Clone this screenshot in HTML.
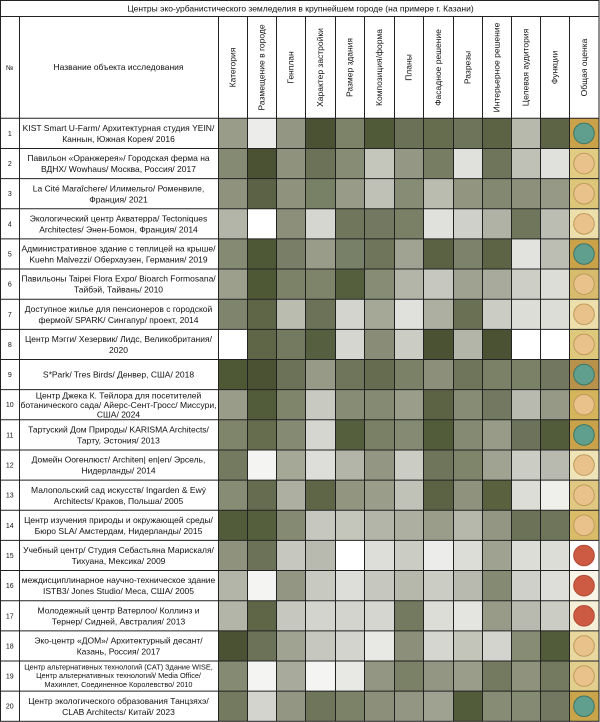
<!DOCTYPE html>
<html><head><meta charset="utf-8"><style>
html,body{margin:0;padding:0;background:#fff;}
svg{display:block;}
text{font-family:"Liberation Sans",Arial,"Noto Sans CJK SC",sans-serif;fill:#111;}
.n{font-size:8.5px;text-anchor:middle;}
.s{font-size:7.3px;text-anchor:middle;}
.num{font-size:7px;text-anchor:middle;}
.h{font-size:8.5px;text-anchor:middle;}
</style></head><body>
<svg width="600" height="722" viewBox="0 0 600 722" xmlns="http://www.w3.org/2000/svg">
<rect x="0" y="0" width="600" height="722" fill="#fff"/>

<g transform="translate(0,118.3)">
<rect x="218" width="29" height="30.15" fill="#9a9c8a"/><rect x="247" width="29" height="30.15" fill="#ececea"/><rect x="276" width="29" height="30.15" fill="#939682"/><rect x="305" width="30" height="30.15" fill="#4b5233"/><rect x="335" width="29" height="30.15" fill="#7c8369"/><rect x="364" width="30" height="30.15" fill="#505a38"/><rect x="394" width="29" height="30.15" fill="#6b7156"/><rect x="423" width="30" height="30.15" fill="#666d4f"/><rect x="453" width="29" height="30.15" fill="#6e745a"/><rect x="482" width="29" height="30.15" fill="#5b6344"/><rect x="511" width="29" height="30.15" fill="#b8b9ad"/><rect x="540" width="29" height="30.15" fill="#5d6446"/><rect x="569" width="30" height="30.15" fill="#c9a24a"/>
<circle cx="584" cy="15.1" r="10.3" fill="#609f8d" stroke="#3d7565"/>
</g>
<g transform="translate(0,148.45)">
<rect x="218" width="29" height="30.15" fill="#858a73"/><rect x="247" width="29" height="30.15" fill="#4b5233"/><rect x="276" width="29" height="30.15" fill="#8f937e"/><rect x="305" width="30" height="30.15" fill="#6b7257"/><rect x="335" width="29" height="30.15" fill="#878c75"/><rect x="364" width="30" height="30.15" fill="#c4c6bc"/><rect x="394" width="29" height="30.15" fill="#949783"/><rect x="423" width="30" height="30.15" fill="#777d62"/><rect x="453" width="29" height="30.15" fill="#e0e0dc"/><rect x="482" width="29" height="30.15" fill="#6f755b"/><rect x="511" width="29" height="30.15" fill="#bfc1b7"/><rect x="540" width="29" height="30.15" fill="#e0e0dc"/><rect x="569" width="30" height="30.15" fill="#e2cc84"/>
<circle cx="584" cy="15.1" r="10.3" fill="#e8c28a" stroke="#bf9a5c"/>
</g>
<g transform="translate(0,178.6)">
<rect x="218" width="29" height="30.15" fill="#8f937e"/><rect x="247" width="29" height="30.15" fill="#5b6245"/><rect x="276" width="29" height="30.15" fill="#8f937e"/><rect x="305" width="30" height="30.15" fill="#788066"/><rect x="335" width="29" height="30.15" fill="#989b87"/><rect x="364" width="30" height="30.15" fill="#bfc1b6"/><rect x="394" width="29" height="30.15" fill="#878c75"/><rect x="423" width="30" height="30.15" fill="#bbbcb0"/><rect x="453" width="29" height="30.15" fill="#929580"/><rect x="482" width="29" height="30.15" fill="#838870"/><rect x="511" width="29" height="30.15" fill="#8d917b"/><rect x="540" width="29" height="30.15" fill="#969985"/><rect x="569" width="30" height="30.15" fill="#ddc57a"/>
<circle cx="584" cy="15.1" r="10.3" fill="#e8c28a" stroke="#bf9a5c"/>
</g>
<g transform="translate(0,208.75)">
<rect x="218" width="29" height="30.15" fill="#b3b5a8"/><rect x="247" width="29" height="30.15" fill="#ffffff"/><rect x="276" width="29" height="30.15" fill="#8c907a"/><rect x="305" width="30" height="30.15" fill="#d5d6d0"/><rect x="335" width="29" height="30.15" fill="#6f765b"/><rect x="364" width="30" height="30.15" fill="#727960"/><rect x="394" width="29" height="30.15" fill="#7a8066"/><rect x="423" width="30" height="30.15" fill="#e0e0dc"/><rect x="453" width="29" height="30.15" fill="#cfd0c9"/><rect x="482" width="29" height="30.15" fill="#b0b2a5"/><rect x="511" width="29" height="30.15" fill="#6f765b"/><rect x="540" width="29" height="30.15" fill="#bcbdb2"/><rect x="569" width="30" height="30.15" fill="#ecdfab"/>
<circle cx="584" cy="15.1" r="10.3" fill="#e8c28a" stroke="#bf9a5c"/>
</g>
<g transform="translate(0,238.9)">
<rect x="218" width="29" height="30.15" fill="#858a73"/><rect x="247" width="29" height="30.15" fill="#4f5836"/><rect x="276" width="29" height="30.15" fill="#797f66"/><rect x="305" width="30" height="30.15" fill="#999c89"/><rect x="335" width="29" height="30.15" fill="#798068"/><rect x="364" width="30" height="30.15" fill="#6f755b"/><rect x="394" width="29" height="30.15" fill="#a0a391"/><rect x="423" width="30" height="30.15" fill="#5a6243"/><rect x="453" width="29" height="30.15" fill="#7d836a"/><rect x="482" width="29" height="30.15" fill="#5c6445"/><rect x="511" width="29" height="30.15" fill="#e2e2de"/><rect x="540" width="29" height="30.15" fill="#bdbeb3"/><rect x="569" width="30" height="30.15" fill="#c9a24a"/>
<circle cx="584" cy="15.1" r="10.3" fill="#609f8d" stroke="#3d7565"/>
</g>
<g transform="translate(0,269.05)">
<rect x="218" width="29" height="30.15" fill="#9c9f8c"/><rect x="247" width="29" height="30.15" fill="#4f5835"/><rect x="276" width="29" height="30.15" fill="#7c8268"/><rect x="305" width="30" height="30.15" fill="#7d846a"/><rect x="335" width="29" height="30.15" fill="#555f3d"/><rect x="364" width="30" height="30.15" fill="#878c75"/><rect x="394" width="29" height="30.15" fill="#b3b5a8"/><rect x="423" width="30" height="30.15" fill="#c6c8bf"/><rect x="453" width="29" height="30.15" fill="#9fa290"/><rect x="482" width="29" height="30.15" fill="#a8aa9b"/><rect x="511" width="29" height="30.15" fill="#cdcec6"/><rect x="540" width="29" height="30.15" fill="#dcddd7"/><rect x="569" width="30" height="30.15" fill="#d8bc6e"/>
<circle cx="584" cy="15.1" r="10.3" fill="#e8c28a" stroke="#bf9a5c"/>
</g>
<g transform="translate(0,299.2)">
<rect x="218" width="29" height="30.15" fill="#7f846c"/><rect x="247" width="29" height="30.15" fill="#5f6648"/><rect x="276" width="29" height="30.15" fill="#bbbcb0"/><rect x="305" width="30" height="30.15" fill="#6c7257"/><rect x="335" width="29" height="30.15" fill="#d3d4ce"/><rect x="364" width="30" height="30.15" fill="#a5a897"/><rect x="394" width="29" height="30.15" fill="#e0e0dc"/><rect x="423" width="30" height="30.15" fill="#adafa1"/><rect x="453" width="29" height="30.15" fill="#6a7054"/><rect x="482" width="29" height="30.15" fill="#cbccc4"/><rect x="511" width="29" height="30.15" fill="#dcddd7"/><rect x="540" width="29" height="30.15" fill="#dcddd7"/><rect x="569" width="30" height="30.15" fill="#ecdfab"/>
<circle cx="584" cy="15.1" r="10.3" fill="#e8c28a" stroke="#bf9a5c"/>
</g>
<g transform="translate(0,329.35)">
<rect x="218" width="29" height="30.15" fill="#ffffff"/><rect x="247" width="29" height="30.15" fill="#5f6648"/><rect x="276" width="29" height="30.15" fill="#737a5f"/><rect x="305" width="30" height="30.15" fill="#566040"/><rect x="335" width="29" height="30.15" fill="#d5d6d0"/><rect x="364" width="30" height="30.15" fill="#898d77"/><rect x="394" width="29" height="30.15" fill="#cbccc4"/><rect x="423" width="30" height="30.15" fill="#4b5233"/><rect x="453" width="29" height="30.15" fill="#b3b5a8"/><rect x="482" width="29" height="30.15" fill="#4b5233"/><rect x="511" width="29" height="30.15" fill="#ffffff"/><rect x="540" width="29" height="30.15" fill="#ffffff"/><rect x="569" width="30" height="30.15" fill="#dec87c"/>
<circle cx="584" cy="15.1" r="10.3" fill="#e8c28a" stroke="#bf9a5c"/>
</g>
<g transform="translate(0,359.5)">
<rect x="218" width="29" height="30.15" fill="#4f5835"/><rect x="247" width="29" height="30.15" fill="#4b5233"/><rect x="276" width="29" height="30.15" fill="#6b7257"/><rect x="305" width="30" height="30.15" fill="#979a86"/><rect x="335" width="29" height="30.15" fill="#6f755b"/><rect x="364" width="30" height="30.15" fill="#656c4f"/><rect x="394" width="29" height="30.15" fill="#7b8167"/><rect x="423" width="30" height="30.15" fill="#8c907a"/><rect x="453" width="29" height="30.15" fill="#6f755b"/><rect x="482" width="29" height="30.15" fill="#7b8167"/><rect x="511" width="29" height="30.15" fill="#7b8167"/><rect x="540" width="29" height="30.15" fill="#727860"/><rect x="569" width="30" height="30.15" fill="#b8914a"/>
<circle cx="584" cy="15.1" r="10.3" fill="#609f8d" stroke="#3d7565"/>
</g>
<g transform="translate(0,389.65)">
<rect x="218" width="29" height="30.15" fill="#999c89"/><rect x="247" width="29" height="30.15" fill="#535c3a"/><rect x="276" width="29" height="30.15" fill="#7f856b"/><rect x="305" width="30" height="30.15" fill="#c8cac1"/><rect x="335" width="29" height="30.15" fill="#878c75"/><rect x="364" width="30" height="30.15" fill="#858a73"/><rect x="394" width="29" height="30.15" fill="#9a9d8a"/><rect x="423" width="30" height="30.15" fill="#5b6344"/><rect x="453" width="29" height="30.15" fill="#878c75"/><rect x="482" width="29" height="30.15" fill="#727960"/><rect x="511" width="29" height="30.15" fill="#b9baaf"/><rect x="540" width="29" height="30.15" fill="#969985"/><rect x="569" width="30" height="30.15" fill="#d4b55c"/>
<circle cx="584" cy="15.1" r="10.3" fill="#e8c28a" stroke="#bf9a5c"/>
</g>
<g transform="translate(0,419.8)">
<rect x="218" width="29" height="30.15" fill="#7f856b"/><rect x="247" width="29" height="30.15" fill="#666d4f"/><rect x="276" width="29" height="30.15" fill="#858a73"/><rect x="305" width="30" height="30.15" fill="#d5d6d0"/><rect x="335" width="29" height="30.15" fill="#555f3d"/><rect x="364" width="30" height="30.15" fill="#7a8066"/><rect x="394" width="29" height="30.15" fill="#858a73"/><rect x="423" width="30" height="30.15" fill="#535c3a"/><rect x="453" width="29" height="30.15" fill="#858a73"/><rect x="482" width="29" height="30.15" fill="#989b87"/><rect x="511" width="29" height="30.15" fill="#6d735a"/><rect x="540" width="29" height="30.15" fill="#535c3a"/><rect x="569" width="30" height="30.15" fill="#c9a24a"/>
<circle cx="584" cy="15.1" r="10.3" fill="#609f8d" stroke="#3d7565"/>
</g>
<g transform="translate(0,449.95)">
<rect x="218" width="29" height="30.15" fill="#737a5f"/><rect x="247" width="29" height="30.15" fill="#f4f4f2"/><rect x="276" width="29" height="30.15" fill="#a5a897"/><rect x="305" width="30" height="30.15" fill="#dddeda"/><rect x="335" width="29" height="30.15" fill="#b3b5a8"/><rect x="364" width="30" height="30.15" fill="#939682"/><rect x="394" width="29" height="30.15" fill="#cbccc4"/><rect x="423" width="30" height="30.15" fill="#6f755b"/><rect x="453" width="29" height="30.15" fill="#7f856b"/><rect x="482" width="29" height="30.15" fill="#a0a391"/><rect x="511" width="29" height="30.15" fill="#cbccc4"/><rect x="540" width="29" height="30.15" fill="#b9baaf"/><rect x="569" width="30" height="30.15" fill="#efe3b8"/>
<circle cx="584" cy="15.1" r="10.3" fill="#e8c28a" stroke="#bf9a5c"/>
</g>
<g transform="translate(0,480.1)">
<rect x="218" width="29" height="30.15" fill="#878c75"/><rect x="247" width="29" height="30.15" fill="#656c4f"/><rect x="276" width="29" height="30.15" fill="#adafa1"/><rect x="305" width="30" height="30.15" fill="#5f6648"/><rect x="335" width="29" height="30.15" fill="#929580"/><rect x="364" width="30" height="30.15" fill="#9a9d8a"/><rect x="394" width="29" height="30.15" fill="#c0c2b8"/><rect x="423" width="30" height="30.15" fill="#5b6344"/><rect x="453" width="29" height="30.15" fill="#8f937e"/><rect x="482" width="29" height="30.15" fill="#59613f"/><rect x="511" width="29" height="30.15" fill="#dcddd7"/><rect x="540" width="29" height="30.15" fill="#efefec"/><rect x="569" width="30" height="30.15" fill="#e0c882"/>
<circle cx="584" cy="15.1" r="10.3" fill="#e8c28a" stroke="#bf9a5c"/>
</g>
<g transform="translate(0,510.25)">
<rect x="218" width="29" height="30.15" fill="#535c3a"/><rect x="247" width="29" height="30.15" fill="#555f3d"/><rect x="276" width="29" height="30.15" fill="#858a73"/><rect x="305" width="30" height="30.15" fill="#c6c8bf"/><rect x="335" width="29" height="30.15" fill="#c4c6bc"/><rect x="364" width="30" height="30.15" fill="#b3b5a8"/><rect x="394" width="29" height="30.15" fill="#adafa1"/><rect x="423" width="30" height="30.15" fill="#9a9d8a"/><rect x="453" width="29" height="30.15" fill="#b6b8ac"/><rect x="482" width="29" height="30.15" fill="#939682"/><rect x="511" width="29" height="30.15" fill="#6b7257"/><rect x="540" width="29" height="30.15" fill="#6f755b"/><rect x="569" width="30" height="30.15" fill="#d9bc68"/>
<circle cx="584" cy="15.1" r="10.3" fill="#e8c28a" stroke="#bf9a5c"/>
</g>
<g transform="translate(0,540.4)">
<rect x="218" width="29" height="30.15" fill="#8f937e"/><rect x="247" width="29" height="30.15" fill="#6b7257"/><rect x="276" width="29" height="30.15" fill="#c6c8bf"/><rect x="305" width="30" height="30.15" fill="#b9baaf"/><rect x="335" width="29" height="30.15" fill="#ffffff"/><rect x="364" width="30" height="30.15" fill="#dddeda"/><rect x="394" width="29" height="30.15" fill="#cbccc4"/><rect x="423" width="30" height="30.15" fill="#ececea"/><rect x="453" width="29" height="30.15" fill="#dcddd7"/><rect x="482" width="29" height="30.15" fill="#9fa290"/><rect x="511" width="29" height="30.15" fill="#dcddd7"/><rect x="540" width="29" height="30.15" fill="#dcddd7"/><rect x="569" width="30" height="30.15" fill="#ffffff"/>
<circle cx="584" cy="15.1" r="10.3" fill="#cd5a43" stroke="#b04a35"/>
</g>
<g transform="translate(0,570.55)">
<rect x="218" width="29" height="30.15" fill="#b3b5a8"/><rect x="247" width="29" height="30.15" fill="#f4f4f2"/><rect x="276" width="29" height="30.15" fill="#939682"/><rect x="305" width="30" height="30.15" fill="#c8cac1"/><rect x="335" width="29" height="30.15" fill="#dddeda"/><rect x="364" width="30" height="30.15" fill="#c6c8bf"/><rect x="394" width="29" height="30.15" fill="#b6b8ac"/><rect x="423" width="30" height="30.15" fill="#cbccc4"/><rect x="453" width="29" height="30.15" fill="#b9baaf"/><rect x="482" width="29" height="30.15" fill="#858a73"/><rect x="511" width="29" height="30.15" fill="#cfd0c9"/><rect x="540" width="29" height="30.15" fill="#dddeda"/><rect x="569" width="30" height="30.15" fill="#f8f4e8"/>
<circle cx="584" cy="15.1" r="10.3" fill="#cd5a43" stroke="#b04a35"/>
</g>
<g transform="translate(0,600.7)">
<rect x="218" width="29" height="30.15" fill="#b3b5a8"/><rect x="247" width="29" height="30.15" fill="#5f6648"/><rect x="276" width="29" height="30.15" fill="#c6c8bf"/><rect x="305" width="30" height="30.15" fill="#d3d4ce"/><rect x="335" width="29" height="30.15" fill="#d3d4ce"/><rect x="364" width="30" height="30.15" fill="#d5d6d0"/><rect x="394" width="29" height="30.15" fill="#737a5f"/><rect x="423" width="30" height="30.15" fill="#dcddd7"/><rect x="453" width="29" height="30.15" fill="#e4e5e1"/><rect x="482" width="29" height="30.15" fill="#989b87"/><rect x="511" width="29" height="30.15" fill="#b9baaf"/><rect x="540" width="29" height="30.15" fill="#cbccc4"/><rect x="569" width="30" height="30.15" fill="#f6efd8"/>
<circle cx="584" cy="15.1" r="10.3" fill="#cd5a43" stroke="#b04a35"/>
</g>
<g transform="translate(0,630.85)">
<rect x="218" width="29" height="30.15" fill="#4b5233"/><rect x="247" width="29" height="30.15" fill="#6b7257"/><rect x="276" width="29" height="30.15" fill="#a0a391"/><rect x="305" width="30" height="30.15" fill="#c6c8bf"/><rect x="335" width="29" height="30.15" fill="#d3d4ce"/><rect x="364" width="30" height="30.15" fill="#e8e8e4"/><rect x="394" width="29" height="30.15" fill="#8c907a"/><rect x="423" width="30" height="30.15" fill="#d5d6d0"/><rect x="453" width="29" height="30.15" fill="#c3c5bb"/><rect x="482" width="29" height="30.15" fill="#d3d4ce"/><rect x="511" width="29" height="30.15" fill="#878c75"/><rect x="540" width="29" height="30.15" fill="#535c3a"/><rect x="569" width="30" height="30.15" fill="#e8d8a0"/>
<circle cx="584" cy="15.1" r="10.3" fill="#e8c28a" stroke="#bf9a5c"/>
</g>
<g transform="translate(0,661)">
<rect x="218" width="29" height="30.15" fill="#858a73"/><rect x="247" width="29" height="30.15" fill="#f4f4f2"/><rect x="276" width="29" height="30.15" fill="#a8aa9b"/><rect x="305" width="30" height="30.15" fill="#f4f4f2"/><rect x="335" width="29" height="30.15" fill="#e8e8e4"/><rect x="364" width="30" height="30.15" fill="#939682"/><rect x="394" width="29" height="30.15" fill="#7b8167"/><rect x="423" width="30" height="30.15" fill="#939682"/><rect x="453" width="29" height="30.15" fill="#9a9d8a"/><rect x="482" width="29" height="30.15" fill="#737a5f"/><rect x="511" width="29" height="30.15" fill="#8f937e"/><rect x="540" width="29" height="30.15" fill="#737a5f"/><rect x="569" width="30" height="30.15" fill="#e2cf90"/>
<circle cx="584" cy="15.1" r="10.3" fill="#e8c28a" stroke="#bf9a5c"/>
</g>
<g transform="translate(0,691.15)">
<rect x="218" width="29" height="30.15" fill="#737a5f"/><rect x="247" width="29" height="30.15" fill="#d3d4ce"/><rect x="276" width="29" height="30.15" fill="#939682"/><rect x="305" width="30" height="30.15" fill="#6f755b"/><rect x="335" width="29" height="30.15" fill="#7b8268"/><rect x="364" width="30" height="30.15" fill="#8c907a"/><rect x="394" width="29" height="30.15" fill="#939682"/><rect x="423" width="30" height="30.15" fill="#9fa290"/><rect x="453" width="29" height="30.15" fill="#535c3a"/><rect x="482" width="29" height="30.15" fill="#878c75"/><rect x="511" width="29" height="30.15" fill="#858a73"/><rect x="540" width="29" height="30.15" fill="#727960"/><rect x="569" width="30" height="30.15" fill="#c9a44a"/>
<circle cx="584" cy="15.1" r="10.3" fill="#609f8d" stroke="#3d7565"/>
</g>

<g stroke="#222" stroke-width="1" fill="none">
<rect x="0.5" y="0.5" width="598.5" height="720.8"/>
<line x1="0" y1="16.5" x2="599" y2="16.5"/>
<line x1="19.5" y1="16.5" x2="19.5" y2="721.3"/>
<line x1="218.5" y1="16.5" x2="218.5" y2="721.3"/>
<line x1="247.5" y1="16.5" x2="247.5" y2="721.3"/>
<line x1="276.5" y1="16.5" x2="276.5" y2="721.3"/>
<line x1="305.5" y1="16.5" x2="305.5" y2="721.3"/>
<line x1="335.5" y1="16.5" x2="335.5" y2="721.3"/>
<line x1="364.5" y1="16.5" x2="364.5" y2="721.3"/>
<line x1="394.5" y1="16.5" x2="394.5" y2="721.3"/>
<line x1="423.5" y1="16.5" x2="423.5" y2="721.3"/>
<line x1="453.5" y1="16.5" x2="453.5" y2="721.3"/>
<line x1="482.5" y1="16.5" x2="482.5" y2="721.3"/>
<line x1="511.5" y1="16.5" x2="511.5" y2="721.3"/>
<line x1="540.5" y1="16.5" x2="540.5" y2="721.3"/>
<line x1="569.5" y1="16.5" x2="569.5" y2="721.3"/>
<line x1="0" y1="118.3" x2="599" y2="118.3"/>
<line x1="0" y1="148.45" x2="599" y2="148.45"/>
<line x1="0" y1="178.6" x2="599" y2="178.6"/>
<line x1="0" y1="208.75" x2="599" y2="208.75"/>
<line x1="0" y1="238.9" x2="599" y2="238.9"/>
<line x1="0" y1="269.05" x2="599" y2="269.05"/>
<line x1="0" y1="299.2" x2="599" y2="299.2"/>
<line x1="0" y1="329.35" x2="599" y2="329.35"/>
<line x1="0" y1="359.5" x2="599" y2="359.5"/>
<line x1="0" y1="389.65" x2="599" y2="389.65"/>
<line x1="0" y1="419.8" x2="599" y2="419.8"/>
<line x1="0" y1="449.95" x2="599" y2="449.95"/>
<line x1="0" y1="480.1" x2="599" y2="480.1"/>
<line x1="0" y1="510.25" x2="599" y2="510.25"/>
<line x1="0" y1="540.4" x2="599" y2="540.4"/>
<line x1="0" y1="570.55" x2="599" y2="570.55"/>
<line x1="0" y1="600.7" x2="599" y2="600.7"/>
<line x1="0" y1="630.85" x2="599" y2="630.85"/>
<line x1="0" y1="661" x2="599" y2="661"/>
<line x1="0" y1="691.15" x2="599" y2="691.15"/>
</g>

<text class="h" x="300.5" y="11.6">Центры эко-урбанистического земледелия в крупнейшем городе (на примере г. Казани)</text>

<text class="num" x="9.8" y="70">№</text>
<text class="h" x="118.5" y="70.2">Название объекта исследования</text>
<text class="h" transform="translate(235.5,67.5) rotate(-90)">Категория</text>
<text class="h" transform="translate(264.5,67.5) rotate(-90)">Размещение в городе</text>
<text class="h" transform="translate(293.5,67.5) rotate(-90)">Генплан</text>
<text class="h" transform="translate(323,67.5) rotate(-90)">Характер застройки</text>
<text class="h" transform="translate(352.5,67.5) rotate(-90)">Размер здания</text>
<text class="h" transform="translate(382,67.5) rotate(-90)">Композиция/форма</text>
<text class="h" transform="translate(411.5,67.5) rotate(-90)">Планы</text>
<text class="h" transform="translate(441,67.5) rotate(-90)">Фасадное решение</text>
<text class="h" transform="translate(470.5,67.5) rotate(-90)">Разрезы</text>
<text class="h" transform="translate(499.5,67.5) rotate(-90)">Интерьерное решение</text>
<text class="h" transform="translate(528.5,67.5) rotate(-90)">Целевая аудитория</text>
<text class="h" transform="translate(557.5,67.5) rotate(-90)">Функции</text>
<text class="h" transform="translate(587,67.5) rotate(-90)">Общая оценка</text>

<text class="num" x="9.8" y="135.9">1</text>
<text class="num" x="9.8" y="166">2</text>
<text class="num" x="9.8" y="196.2">3</text>
<text class="num" x="9.8" y="226.3">4</text>
<text class="num" x="9.8" y="256.5">5</text>
<text class="num" x="9.8" y="286.6">6</text>
<text class="num" x="9.8" y="316.8">7</text>
<text class="num" x="9.8" y="346.9">8</text>
<text class="num" x="9.8" y="377.1">9</text>
<text class="num" x="9.8" y="407.2">10</text>
<text class="num" x="9.8" y="437.4">11</text>
<text class="num" x="9.8" y="467.5">12</text>
<text class="num" x="9.8" y="497.7">13</text>
<text class="num" x="9.8" y="527.8">14</text>
<text class="num" x="9.8" y="558">15</text>
<text class="num" x="9.8" y="588.1">16</text>
<text class="num" x="9.8" y="618.3">17</text>
<text class="num" x="9.8" y="648.4">18</text>
<text class="num" x="9.8" y="678.6">19</text>
<text class="num" x="9.8" y="708.7">20</text>

<text class="n" x="118.5" y="131"><tspan x="118.5">KIST Smart U-Farm/ Архитектурная студия YEIN/</tspan><tspan x="118.5" dy="11">Каннын, Южная Корея/ 2016</tspan></text>
<text class="n" x="118.5" y="161.1"><tspan x="118.5">Павильон «Оранжерея»/ Городская ферма на</tspan><tspan x="118.5" dy="11">ВДНХ/ Wowhaus/  Москва, Россия/ 2017</tspan></text>
<text class="n" x="118.5" y="191.3"><tspan x="118.5">La Cité Maraîchere/ Илимельго/ Роменвиле,</tspan><tspan x="118.5" dy="11">Франция/ 2021</tspan></text>
<text class="n" x="118.5" y="221.4"><tspan x="118.5">Экологический центр Акватерра/ Tectoniques</tspan><tspan x="118.5" dy="11">Architectes/ Энен-Бомон, Франция/ 2014</tspan></text>
<text class="n" x="118.5" y="251.6"><tspan x="118.5">Административное здание с теплицей на крыше/</tspan><tspan x="118.5" dy="11">Kuehn Malvezzi/ Оберхаузен, Германия/ 2019</tspan></text>
<text class="n" x="118.5" y="281.7"><tspan x="118.5">Павильоны Taipei Flora Expo/ Bioarch Formosana/</tspan><tspan x="118.5" dy="11">Тайбэй, Тайвань/ 2010</tspan></text>
<text class="n" x="118.5" y="311.9"><tspan x="118.5">Доступное жилье для пенсионеров с городской</tspan><tspan x="118.5" dy="11">фермой/ SPARK/ Сингапур/ проект, 2014</tspan></text>
<text class="n" x="118.5" y="342"><tspan x="118.5">Центр Мэгги/ Хезервик/ Лидс, Великобритания/</tspan><tspan x="118.5" dy="11">2020</tspan></text>
<text class="n" x="118.5" y="377.7">S*Park/ Tres Birds/ Денвер, США/ 2018</text>
<text class="n" x="118.5" y="398.3"><tspan x="118.5">Центр Джека К. Тейлора для посетителей</tspan><tspan x="118.5" dy="9.5" textLength="196" lengthAdjust="spacingAndGlyphs">ботанического сада/ Айерс-Сент-Гросс/ Миссури,</tspan><tspan x="118.5" dy="9.5">США/ 2024</tspan></text>
<text class="n" x="118.5" y="432.5"><tspan x="118.5">Тартуский Дом Природы/ KARISMA Architects/</tspan><tspan x="118.5" dy="11">Тарту, Эстония/ 2013</tspan></text>
<text class="n" x="118.5" y="462.6"><tspan x="118.5">Домейн Оогенлюст/ Architen| en|en/ Эрсель,</tspan><tspan x="118.5" dy="11">Нидерланды/ 2014</tspan></text>
<text class="n" x="118.5" y="492.8"><tspan x="118.5">Малопольский сад искусств/ Ingarden &amp; Ewý</tspan><tspan x="118.5" dy="11">Architects/ Краков, Польша/ 2005</tspan></text>
<text class="n" x="118.5" y="522.9"><tspan x="118.5">Центр изучения природы и окружающей среды/</tspan><tspan x="118.5" dy="11">Бюро SLA/ Амстердам, Нидерланды/ 2015</tspan></text>
<text class="n" x="118.5" y="553.1"><tspan x="118.5">Учебный центр/ Студия Себастьяна Марискаля/</tspan><tspan x="118.5" dy="11">Тихуана, Мексика/ 2009</tspan></text>
<text class="n" x="118.5" y="583.2"><tspan x="118.5">междисциплинарное научно-техническое здание</tspan><tspan x="118.5" dy="11">ISTB3/ Jones Studio/ Меса, США/ 2005</tspan></text>
<text class="n" x="118.5" y="613.4"><tspan x="118.5">Молодежный центр Ватерлоо/ Коллинз и</tspan><tspan x="118.5" dy="11">Тернер/ Сидней, Австралия/ 2013</tspan></text>
<text class="n" x="118.5" y="643.5"><tspan x="118.5">Эко-центр «ДОМ»/ Архитектурный десант/</tspan><tspan x="118.5" dy="11">Казань, Россия/ 2017</tspan></text>
<text class="s" x="118.5" y="669.4"><tspan x="118.5">Центр альтернативных технологий (CAT) Здание WISE,</tspan><tspan x="118.5" dy="8.7">Центр альтернативных технологий/ Media Office/</tspan><tspan x="118.5" dy="8.7">Махинлет, Соединенное Королевство/ 2010</tspan></text>
<text class="n" x="118.5" y="703.8"><tspan x="118.5">Центр экологического образования Танцзяхэ/</tspan><tspan x="118.5" dy="11">CLAB Architects/ Китай/ 2023</tspan></text>
</svg>
</body></html>
